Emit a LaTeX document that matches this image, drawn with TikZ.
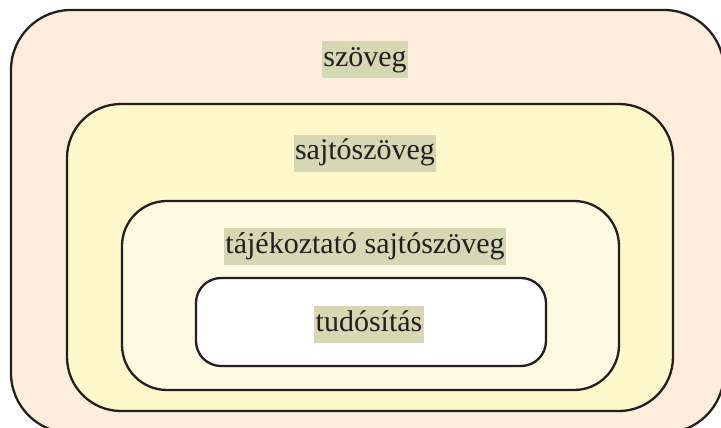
\documentclass[tikz,border=0pt]{standalone}
\usepackage{fontspec}
\setmainfont{Liberation Serif}
\usetikzlibrary{positioning}
\definecolor{outerfill}{RGB}{253,237,218}
\definecolor{midfill}{RGB}{255,248,200}
\definecolor{innerfill}{RGB}{255,250,225}
\definecolor{labelbg}{RGB}{213,216,178}
\definecolor{strokecol}{RGB}{35,31,32}
\tikzset{
  layerbox/.style={draw=strokecol, line width=2.3pt, rectangle, inner sep=0pt},
  lbl/.style={fill=labelbg, text=strokecol, inner xsep=1.5pt, inner ysep=3pt,
    text height=22pt, text depth=9pt, font=\fontsize{30}{34}\selectfont}
}
\begin{document}
\begin{tikzpicture}[x=1pt,y=-1pt]
\useasboundingbox (0,0) rectangle (721,428);
\clip (0,0) rectangle (721,428);
\node[layerbox, fill=outerfill, rounded corners=60pt, minimum width=713pt, minimum height=423pt] (outer) at (367.5,221.5) {};
\node[layerbox, fill=midfill, rounded corners=54pt, minimum width=606pt, minimum height=307pt] (mid) at (370,257.5) {};
\node[layerbox, fill=innerfill, rounded corners=45pt, minimum width=497pt, minimum height=189pt] (inner) at (370.5,295.5) {};
\node[layerbox, fill=white, rounded corners=25pt, minimum width=350pt, minimum height=88pt] (core) at (371,322) {};
\node[lbl] (l1) at (365,60) {szöveg};
\node[lbl] (l2) at (365,153.5) {sajtószöveg};
\node[lbl] (l3) at (365,246.5) {tájékoztató sajtószöveg};
\node[lbl] (l4) at (369,324.5) {tudósítás};
\end{tikzpicture}
\end{document}
